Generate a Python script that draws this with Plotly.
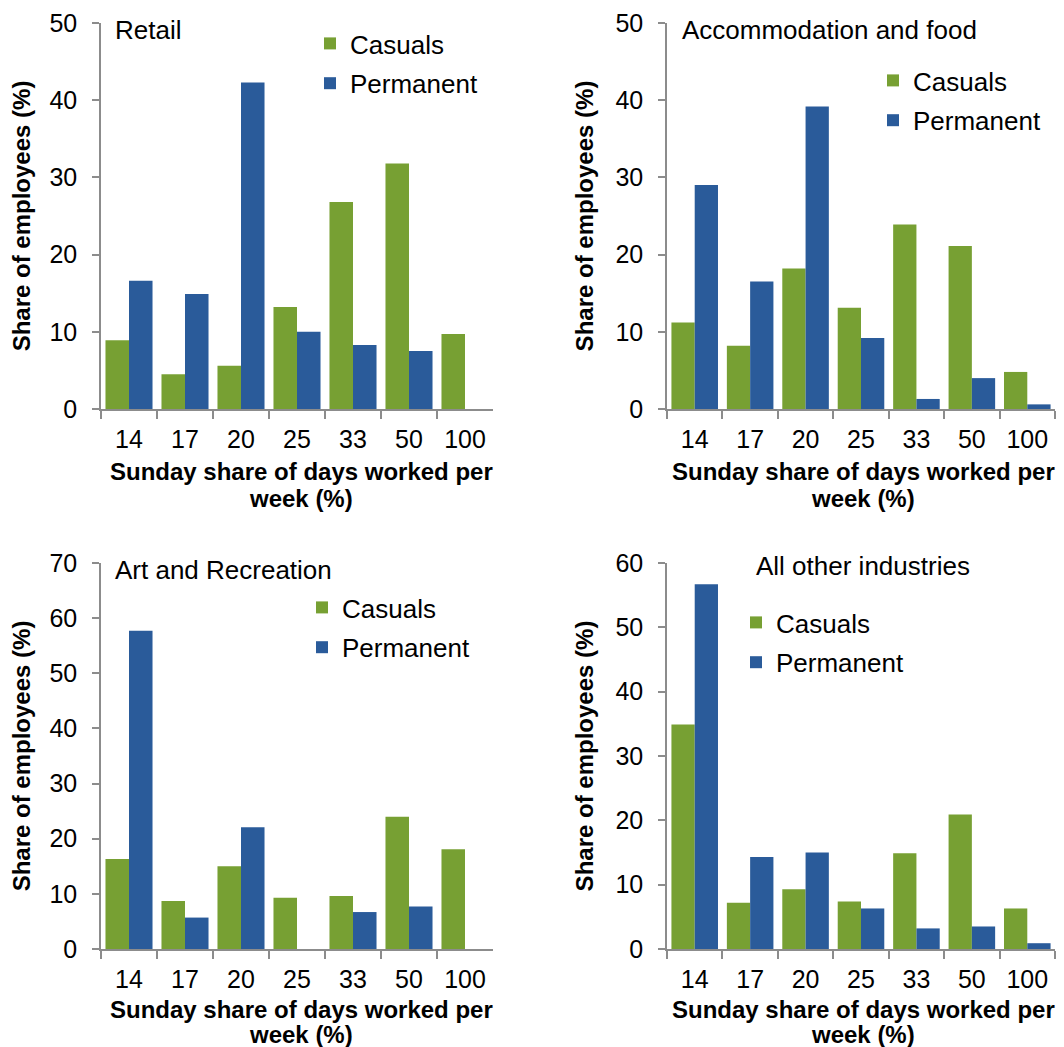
import plotly.graph_objects as go

# categories: Sunday share of days worked per week (%)
categories = ["14", "17", "20", "25", "33", "50", "100"]

panel_titles = ["Retail", "Accommodation and food", "Art and Recreation", "All other industries"]

retail_casuals = [8.9, 4.5, 5.6, 13.2, 26.8, 31.8, 9.7]
retail_permanent = [16.6, 14.9, 42.3, 10.0, 8.3, 7.5, 0]

accom_casuals = [11.2, 8.2, 18.2, 13.1, 23.9, 21.1, 4.8]
accom_permanent = [29.0, 16.5, 39.2, 9.2, 1.3, 4.0, 0.6]

art_casuals = [16.3, 8.7, 15.0, 9.3, 9.6, 24.0, 18.1]
art_permanent = [57.7, 5.7, 22.1, 0, 6.7, 7.7, 0]

other_casuals = [34.9, 7.2, 9.3, 7.4, 14.9, 20.9, 6.3]
other_permanent = [56.7, 14.3, 15.0, 6.3, 3.2, 3.5, 0.9]

y_max = [50, 50, 70, 60]

GREEN = "#77A033"
BLUE = "#2A5B9A"
AXIS = "#8C8C8C"
FONT = "Liberation Sans, Arial, sans-serif"

# the page body adds an 8px margin, so the figure starts 8px in from the corner;
# the visible area ends about 8px short of the right edge
OFF = 8
W, H = 1064 - 2 * OFF, 1047 - OFF


def fx(p):
    return (p - OFF) / W


def fy(p):
    return 1 - (p - OFF) / H


# page pixel boxes of each plot area: (left, right, top, bottom)
boxes = [
    (101, 493, 23, 409),
    (667, 1055, 23, 409),
    (101, 493, 563, 949),
    (667, 1055, 563, 949),
]
# panel label positions (left x, centre y)
label_pos = [(113, 30), (680, 30), (113, 570), (754, 566)]
# legend positions (left x, top y)
legend_pos = [(310, 20), (873, 57), (302, 584), (736, 599)]
# x-title centre and line offsets below the axis
title_cx = [301, 863, 301, 863]
title_dy = [(62, 89), (62, 89), (60, 85), (60, 85)]

data = [
    (retail_casuals, retail_permanent),
    (accom_casuals, accom_permanent),
    (art_casuals, art_permanent),
    (other_casuals, other_permanent),
]

fig = go.Figure()
layout = {}
for i, ((cas, perm), box) in enumerate(zip(data, boxes)):
    n = "" if i == 0 else str(i + 1)
    leg = "legend" if i == 0 else f"legend{i + 1}"
    fig.add_trace(go.Bar(x=categories, y=cas, name="Casuals", marker_color=GREEN,
                         marker_line_width=0, xaxis=f"x{n}", yaxis=f"y{n}",
                         legend=leg, legendgroup=f"c{i}"))
    fig.add_trace(go.Bar(x=categories, y=perm, name="Permanent", marker_color=BLUE,
                         marker_line_width=0, xaxis=f"x{n}", yaxis=f"y{n}",
                         legend=leg, legendgroup=f"p{i}"))
    l, r, t, b = box
    layout[f"xaxis{n}"] = dict(
        domain=[fx(l), fx(r)], anchor=f"y{n}", type="category", automargin=False,
        showline=True, linecolor=AXIS, linewidth=1.5,
        ticks="outside", tickson="boundaries", ticklen=8, tickcolor=AXIS, tickwidth=1.5,
        tickfont=dict(size=25, color="black"), ticklabelstandoff=7,
        showgrid=False, zeroline=False, fixedrange=True,
    )
    layout[f"yaxis{n}"] = dict(
        domain=[fy(b), fy(t)], anchor=f"x{n}", range=[0, y_max[i]], automargin=False,
        dtick=10, showline=True, linecolor=AXIS, linewidth=1.5,
        ticks="outside", ticklen=7, tickcolor=AXIS, tickwidth=1.5,
        tickfont=dict(size=25, color="black"), ticklabelstandoff=10,
        title=dict(text="<b>Share of employees (%)</b>",
                   font=dict(size=24, color="black"), standoff=15),
        showgrid=False, zeroline=False, fixedrange=True,
    )
    lx, ly = legend_pos[i]
    layout[leg] = dict(
        x=fx(lx), y=fy(ly), xanchor="left", yanchor="top",
        font=dict(size=26, color="black", family=FONT),
        bgcolor="rgba(0,0,0,0)", tracegroupgap=3, itemwidth=30,
    )
    px_, py_ = label_pos[i]
    fig.add_annotation(text=panel_titles[i], x=fx(px_), y=fy(py_),
                       xref="paper", yref="paper", xanchor="left", yanchor="middle",
                       showarrow=False, font=dict(size=26, color="black"))
    # x-axis title, two lines
    d1, d2 = title_dy[i]
    for txt, dy in [("<b>Sunday share of days worked per</b>", d1), ("<b>week (%)</b>", d2)]:
        fig.add_annotation(text=txt, x=fx(title_cx[i]), y=fy(b + dy),
                           xref="paper", yref="paper", xanchor="center", yanchor="middle",
                           showarrow=False, font=dict(size=24, color="black"))

fig.update_layout(
    width=W, height=H,
    margin=dict(l=0, r=0, t=0, b=0),
    paper_bgcolor="white", plot_bgcolor="white",
    font=dict(family=FONT, color="black"),
    barmode="group", bargap=0.16, bargroupgap=0,
    **layout,
)

fig.write_html("out.html")
